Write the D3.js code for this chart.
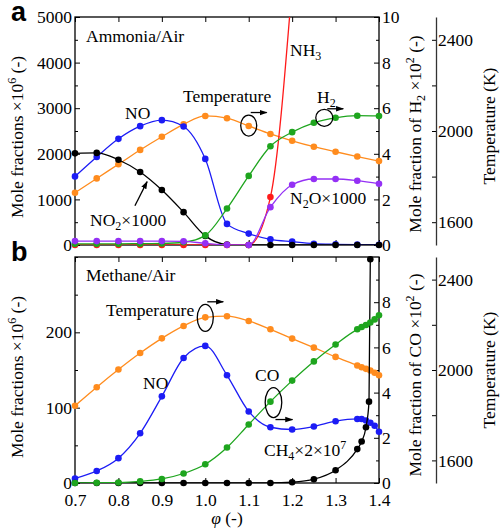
<!DOCTYPE html>
<html>
<head>
<meta charset="utf-8">
<script src="https://cdn.jsdelivr.net/npm/d3@7"></script>
<style>
  body { margin: 0; background: #fff; }
  text { font-family: "Liberation Serif", "Times New Roman", serif; font-size: 17.5px; fill: #000; }
  .tag { font-family: "Liberation Sans", Arial, sans-serif; font-weight: bold; font-size: 27px; }
</style>
</head>
<body>
<div id="chart"></div>
<script>
// ---- panel a : ammonia / air ----
const phiA   = [0.7, 0.75, 0.8, 0.85, 0.9, 0.95, 1.0, 1.05, 1.1, 1.15, 1.2, 1.25, 1.3, 1.35, 1.4];
const noA    = [1504, 1931, 2328, 2606, 2738, 2599, 1888, 463, 250, 125, 73, 29, 15, 8, 5];
const no2A   = [2010, 2020, 1870, 1600, 1205, 720, 200, 10, 0, 0, 0, 0, 0, 0, 0];   // x1000
const n2oA   = [85, 85, 85, 85, 85, 80, 37, 3, 0, 830, 1322, 1447, 1447, 1410, 1344]; // x1000
const h2A    = [0.05, 0.05, 0.05, 0.06, 0.07, 0.12, 0.42, 1.6, 3.03, 4.33, 4.95, 5.36, 5.58, 5.67, 5.66]; // x10^2
const tempA  = [1729, 1792, 1854, 1917, 1975, 2029, 2066, 2056, 2022, 1987, 1957, 1931, 1909, 1888, 1868];
const phiNH3 = [0.7, 0.75, 0.8, 0.85, 0.9, 0.95, 1.0, 1.05, 1.1, 1.15, 1.2];
const nh3A   = [0, 0, 0, 0, 0, 0, 0, 0, 0, 1050, 5700];

// ---- panel b : methane / air ----
const phiB   = [0.7, 0.75, 0.8, 0.85, 0.9, 0.95, 1.0, 1.05, 1.1, 1.15, 1.2, 1.25, 1.3,
                1.35, 1.36, 1.37, 1.38, 1.39, 1.4];
const noB    = [6, 16, 33, 66, 115, 166, 182, 143, 95, 74, 71, 75, 82, 85, 85, 83, 80, 76, 68];
const coB    = [0.0, 0.01, 0.02, 0.07, 0.18, 0.42, 0.83, 1.57, 2.59, 3.6, 4.53, 5.38, 6.13,
                6.8, 6.9, 6.99, 7.1, 7.24, 7.42]; // x10^2
const tempB  = [1842, 1924, 2002, 2075, 2140, 2195, 2233, 2238, 2217, 2180, 2139, 2099, 2058,
                2020, 2012, 2005, 1998, 1988, 1977];
const phiCH4 = [0.7, 0.75, 0.8, 0.85, 0.9, 0.95, 1.0, 1.05, 1.1, 1.15, 1.2, 1.25, 1.3,
                1.35, 1.36, 1.37, 1.377, 1.38];
const ch4B   = [0, 0, 0, 0, 0, 0, 0, 0, 0, 0, 1, 5, 17, 45, 55, 74, 108, 297]; // x2x10^7

// ---- ticks ----
const phiTicks   = [0.7, 0.8, 0.9, 1.0, 1.1, 1.2, 1.3, 1.4];
const leftTicksA = [0, 1000, 2000, 3000, 4000, 5000];
const leftMinorA = [500, 1500, 2500, 3500, 4500];
const leftTicksB = [0, 100, 200];
const leftMinorB = [50, 150, 250, 300];
const rightTicksA = [0, 2, 4, 6, 8, 10];
const rightTicksB = [0, 2, 4, 6, 8];
const rightMinor  = [1, 3, 5, 7, 9];
const tempTicks   = [1600, 2000, 2400];
const tempMinor   = [1800, 2200];

const C = { no: "#1c1cf5", temp: "#ff8c1e", h2: "#1ea51e", n2o: "#9430f5", nh3: "#ff1a1a", blk: "#000" };

const W = 500, H = 529;
const left = 75, right = 379, tAxisX = 436;

const svg = d3.select("#chart").append("svg").attr("width", W).attr("height", H);

svg.append("defs").append("marker")
    .attr("id", "arr")
    .attr("viewBox", "0 0 10 10")
    .attr("refX", 9).attr("refY", 5)
    .attr("markerWidth", 8).attr("markerHeight", 8)
    .attr("markerUnits", "userSpaceOnUse")
    .attr("orient", "auto")
  .append("path").attr("d", "M0,1.5L10,5L0,8.5Z").attr("fill", "#000");

const x = d3.scaleLinear().domain([0.7, 1.4]).range([left, right]);

// rich text with sub / superscripts
function rich(sel, parts) {
  let shift = 0;
  parts.forEach(([s, k]) => {
    const target = k === "sub" ? 4 : k === "sup" ? -7 : 0;
    sel.append("tspan").attr("dy", target - shift).style("font-size", k ? "12px" : null).text(s);
    shift = target;
  });
  return sel;
}

function vtitle(cx, cy, parts) {
  rich(svg.append("text")
      .attr("transform", "translate(" + cx + "," + cy + ") rotate(-90)")
      .attr("text-anchor", "middle"), parts);
}

function panel(p) {
  const yL = d3.scaleLinear().domain(p.leftDomain).range([p.bottom, p.top]);
  const yR = d3.scaleLinear().domain([0, 10]).range([p.bottom, p.top]);
  const yT = d3.scaleLinear().domain([1500, 2500]).range([p.bottom, p.top]);
  const g = svg.append("g");

  g.append("clipPath").attr("id", "clip" + p.id)
    .append("rect").attr("x", left).attr("y", p.top)
    .attr("width", right - left).attr("height", p.bottom - p.top);

  const ax = (axis, tx, ty) => {
    const a = g.append("g").attr("transform", "translate(" + tx + "," + ty + ")").call(axis);
    a.select(".domain").remove();
    return a;
  };
  ax(d3.axisLeft(yL).tickValues(p.leftTicks).tickFormat(d3.format("d")).tickSize(-5).tickPadding(3), left, 0);
  ax(d3.axisLeft(yL).tickValues(p.leftMinor).tickFormat("").tickSize(-3), left, 0);
  ax(d3.axisRight(yR).tickValues(p.rightTicks).tickFormat(d3.format("d")).tickSize(-5).tickPadding(3), right, 0);
  ax(d3.axisRight(yR).tickValues(rightMinor).tickFormat("").tickSize(-3), right, 0);
  ax(d3.axisTop(x).tickValues(phiTicks).tickFormat("").tickSize(-5), 0, p.top);
  ax(d3.axisBottom(x).tickValues(phiTicks)
      .tickFormat(p.xLabels ? d3.format(".1f") : "").tickSize(-5).tickPadding(11), 0, p.bottom);

  // temperature axis
  const ta = g.append("g").attr("transform", "translate(" + tAxisX + ",0)")
    .call(d3.axisRight(yT).tickValues(tempTicks).tickFormat(d3.format("d")).tickSize(-4).tickPadding(2).tickSizeOuter(0));
  ta.select(".domain").attr("stroke", "#333").attr("stroke-width", 1.3);
  g.append("g").attr("transform", "translate(" + tAxisX + ",0)")
    .call(d3.axisRight(yT).tickValues(tempMinor).tickFormat("").tickSize(-4))
    .select(".domain").remove();

  g.append("rect").attr("x", left).attr("y", p.top)
    .attr("width", right - left).attr("height", p.bottom - p.top)
    .attr("fill", "none").attr("stroke", "#000").attr("stroke-width", 1.3);

  const plot = g.append("g");
  return { g, plot, yL, yR, yT, clip: "url(#clip" + p.id + ")" };
}

function series(P, xs, ys, yScale, color) {
  const pts = xs.map((v, i) => [v, ys[i]]);
  const line = d3.line().x(d => x(d[0])).y(d => yScale(d[1])).curve(d3.curveMonotoneX);
  P.plot.append("path").datum(pts).attr("d", line)
    .attr("clip-path", P.clip)
    .attr("fill", "none").attr("stroke", color).attr("stroke-width", 1.3);
  const dom = yScale.domain();
  P.plot.selectAll(null).data(pts.filter(d => d[1] >= dom[0] && d[1] <= dom[1])).enter()
    .append("circle")
    .attr("cx", d => x(d[0])).attr("cy", d => yScale(d[1]))
    .attr("r", 3.3).attr("fill", color);
}

function ring(P, cx, cy, rx, ry) {
  P.plot.append("ellipse").attr("cx", cx).attr("cy", cy).attr("rx", rx).attr("ry", ry)
    .attr("fill", "none").attr("stroke", "#000").attr("stroke-width", 1.3);
}
function arrow(x1, y1, x2, y2) {
  svg.append("line").attr("x1", x1).attr("y1", y1).attr("x2", x2).attr("y2", y2)
    .attr("stroke", "#000").attr("stroke-width", 1.3).attr("marker-end", "url(#arr)");
}
function note(tx, ty, parts) {
  rich(svg.append("text").attr("x", tx).attr("y", ty), parts);
}

// ================= panel a =================
const A = panel({ id: "a", top: 17, bottom: 245, leftDomain: [0, 5000],
  leftTicks: leftTicksA, leftMinor: leftMinorA, rightTicks: rightTicksA, xLabels: false });

series(A, phiA, tempA, A.yT, C.temp);
series(A, phiA, noA, A.yL, C.no);
series(A, phiA, no2A, A.yL, C.blk);
series(A, phiNH3, nh3A, A.yL, C.nh3);
series(A, phiA, h2A, A.yR, C.h2);
series(A, phiA, n2oA, A.yL, C.n2o);

svg.append("text").attr("class", "tag").attr("x", 11).attr("y", 21).text("a");
note(86, 42, [["Ammonia/Air"]]);
note(125, 119, [["NO"]]);
note(90, 226, [["NO"], ["2", "sub"], ["×1000"]]);
arrow(x(0.838), A.yL(860), x(0.866), A.yL(1390));
note(183, 102, [["Temperature"]]);
{
  const cx = x(1.1), cy = A.yT(2024);
  ring(A, cx, cy, 8, 10.5);
  arrow(cx + 2, cy - 13, cx + 18, cy - 13);
}
note(290, 56, [["NH"], ["3", "sub"]]);
note(317, 103, [["H"], ["2", "sub"]]);
{
  const cx = x(1.274), cy = A.yR(5.58);
  ring(A, cx, cy, 8.5, 8.5);
  arrow(cx + 3, cy - 9, cx + 19, cy - 9);
}
note(290, 204, [["N"], ["2", "sub"], ["O×1000"]]);

vtitle(23, 137, [["Mole fractions ×10"], ["6", "sup"], [" (-)"]]);
vtitle(421, 134, [["Mole fraction of H"], ["2", "sub"], [" ×10"], ["2", "sup"], [" (-)"]]);
vtitle(495, 126, [["Temperature (K)"]]);

// ================= panel b =================
const B = panel({ id: "b", top: 257, bottom: 483, leftDomain: [0, 300],
  leftTicks: leftTicksB, leftMinor: leftMinorB, rightTicks: rightTicksB, xLabels: true });

series(B, phiB, tempB, B.yT, C.temp);
series(B, phiB, noB, B.yL, C.no);
series(B, phiCH4, ch4B, B.yL, C.blk);
series(B, phiB, coB, B.yR, C.h2);

svg.append("text").attr("class", "tag").attr("x", 11).attr("y", 261).text("b");
note(86, 281, [["Methane/Air"]]);
note(106, 316, [["Temperature"]]);
{
  const cx = x(1.0), cy = B.yT(2231);
  ring(B, cx, cy, 8, 13.5);
  arrow(cx + 2, cy - 16, cx + 18, cy - 16);
}
note(143, 389, [["NO"]]);
note(255, 381, [["CO"]]);
{
  const cx = x(1.157), cy = B.yR(3.56);
  ring(B, cx, cy, 8.3, 15);
  arrow(cx + 2, cy + 17, cx + 19, cy + 17);
}
note(264, 456, [["CH"], ["4", "sub"], ["×2×10"], ["7", "sup"]]);

vtitle(23, 377, [["Mole fractions ×10"], ["6", "sup"], [" (-)"]]);
vtitle(421, 375, [["Mole fraction of CO ×10"], ["2", "sup"], [" (-)"]]);
vtitle(495, 370, [["Temperature (K)"]]);

rich(svg.append("text").attr("x", x(1.05)).attr("y", 524).attr("text-anchor", "middle"),
  [["φ"], [" (-)"]]).select("tspan").style("font-style", "italic");
</script>
</body>
</html>
